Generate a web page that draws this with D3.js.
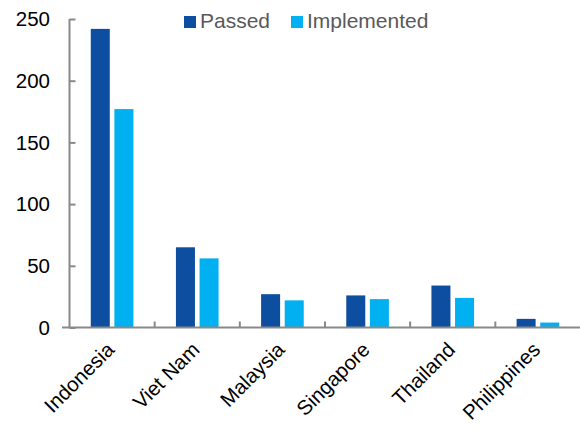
<!DOCTYPE html>
<html>
<head>
<meta charset="utf-8">
<script src="https://cdn.jsdelivr.net/npm/d3@7"></script>
<style>
  html, body { margin: 0; padding: 0; background: #fff; }
  svg { display: block; font-family: "Liberation Sans", Arial, sans-serif; }
</style>
</head>
<body>
<svg id="chart" width="580" height="428"></svg>
<script>
// Regulations passed vs. implemented, by country
const countries = ["Indonesia", "Viet Nam", "Malaysia", "Singapore", "Thailand", "Philippines"];
const seriesNames = ["Passed", "Implemented"];
const passed = [242, 65, 27, 26, 34, 7];
const implemented = [177, 56, 22, 23, 24, 4];
const yTicks = [0, 50, 100, 150, 200, 250];
const seriesColors = ["#0D4EA1", "#00B0F0"];

const rows = countries.map((c, i) => ({ country: c, values: [passed[i], implemented[i]] }));

const svg = d3.select("#chart");
const axisColor = "#898989";

const x = d3.scaleBand().domain(countries).range([69.5, 580.5]).padding(0);
const xs = d3.scaleBand().domain(seriesNames).range([0, x.bandwidth()])
  .paddingInner(0.195).paddingOuter(0.9);
const y = d3.scaleLinear().domain([0, 250]).range([327.5, 19]);

// Bars
const groups = svg.append("g").selectAll("g").data(rows).join("g")
  .attr("transform", d => `translate(${x(d.country)},0)`);
groups.selectAll("rect")
  .data(d => d.values.map((v, j) => ({ key: seriesNames[j], value: v, j })))
  .join("rect")
  .attr("x", d => xs(d.key))
  .attr("width", xs.bandwidth())
  .attr("y", d => y(d.value))
  .attr("height", d => y(0) - y(d.value))
  .attr("fill", d => seriesColors[d.j]);

// Y axis
const yAxis = svg.append("g").attr("transform", "translate(69.5,0)")
  .call(d3.axisRight(y).tickValues(yTicks).tickSize(6).tickFormat(""));
yAxis.select(".domain").attr("stroke", axisColor).attr("stroke-width", 2)
  .attr("d", `M0,${y(250)}V${y(0)}`);
yAxis.selectAll(".tick line").attr("stroke", axisColor).attr("stroke-width", 2);

svg.append("g").selectAll("text").data(yTicks).join("text")
  .attr("x", 50).attr("y", d => y(d)).attr("dy", "0.36em")
  .attr("text-anchor", "end").attr("font-size", 20.5).attr("fill", "#000")
  .text(d => d);

// X axis with boundary ticks pointing up
const bounds = countries.slice(1).map(c => x(c));
const xAxisG = svg.append("g");
xAxisG.append("line")
  .attr("x1", 62).attr("x2", 580).attr("y1", y(0)).attr("y2", y(0))
  .attr("stroke", axisColor).attr("stroke-width", 2);
xAxisG.selectAll("line.tk").data(bounds).join("line").attr("class", "tk")
  .attr("x1", d => d).attr("x2", d => d)
  .attr("y1", y(0)).attr("y2", y(0) - 6)
  .attr("stroke", axisColor).attr("stroke-width", 2);

// Rotated category labels
svg.append("g").selectAll("text").data(countries).join("text")
  .attr("text-anchor", "end").attr("font-size", 20.5).attr("fill", "#000")
  .attr("transform", d => `translate(${x(d) + x.bandwidth() / 2 + 3.5},${351}) rotate(-45)`)
  .text(d => d);

// Legend
const legend = svg.append("g").selectAll("g").data(seriesNames).join("g")
  .attr("transform", (d, i) => `translate(${i === 0 ? 184 : 291},0)`);
legend.append("rect").attr("x", 0).attr("y", 16).attr("width", 12).attr("height", 12)
  .attr("fill", (d, i) => seriesColors[i]);
legend.append("text").attr("x", 16).attr("y", 28).attr("font-size", 21)
  .attr("fill", "#595959").text(d => d);
</script>
</body>
</html>
